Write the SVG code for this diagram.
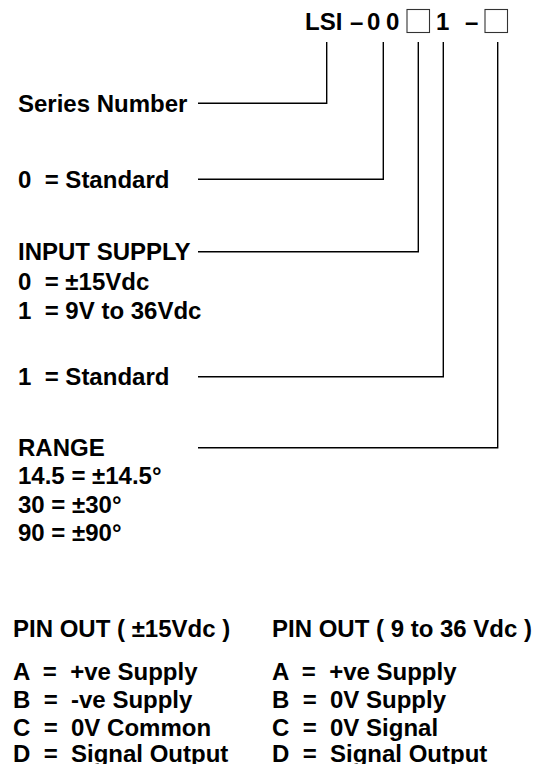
<svg xmlns="http://www.w3.org/2000/svg" width="542" height="764" viewBox="0 0 542 764">
<style>
text{font-family:"Liberation Sans",Arial,sans-serif;font-weight:bold;font-size:24px;fill:#000}
.box{fill:#fff;stroke:#333;stroke-width:1.1}
.conn{fill:none;stroke:#000;stroke-width:1.4}
</style>
<rect width="542" height="764" fill="#fff"/>
<g id="code">
<text x="305" y="30">LSI</text>
<text x="350" y="30">–</text>
<text x="367" y="30">0</text>
<text x="386" y="30">0</text>
<rect class="box" x="407" y="9.5" width="22.5" height="23"/>
<text x="436" y="30">1</text>
<text x="465" y="30">–</text>
<rect class="box" x="485" y="9.5" width="22.5" height="23"/>
</g>
<g id="series"><text x="18" y="111.5">Series Number</text></g>
<g id="standard0"><text x="18" y="187.5" xml:space="preserve">0  = Standard</text></g>
<g id="input-supply">
<text x="18" y="260">INPUT SUPPLY</text>
<text x="18" y="289.5" xml:space="preserve">0  = ±15Vdc</text>
<text x="18" y="319" xml:space="preserve">1  = 9V to 36Vdc</text>
</g>
<g id="standard1"><text x="18" y="385" xml:space="preserve">1  = Standard</text></g>
<g id="range">
<text x="18" y="456">RANGE</text>
<text x="18" y="484">14.5 = ±14.5°</text>
<text x="18" y="512.5">30 = ±30°</text>
<text x="18" y="541">90 = ±90°</text>
</g>
<g id="pinout-15">
<text x="13" y="637">PIN OUT ( ±15Vdc )</text>
<text x="13" y="679.5" xml:space="preserve">A  =  +ve Supply</text>
<text x="13" y="707.5" xml:space="preserve">B  =  -ve Supply</text>
<text x="13" y="735.5" xml:space="preserve">C  =  0V Common</text>
<text x="13" y="762" xml:space="preserve">D  =  Signal Output</text>
</g>
<g id="pinout-9-36">
<text x="272" y="637">PIN OUT ( 9 to 36 Vdc )</text>
<text x="272" y="679.5" xml:space="preserve">A  =  +ve Supply</text>
<text x="272" y="707.5" xml:space="preserve">B  =  0V Supply</text>
<text x="272" y="735.5" xml:space="preserve">C  =  0V Signal</text>
<text x="272" y="762" xml:space="preserve">D  =  Signal Output</text>
</g>
<g id="connectors">
<polyline class="conn" points="198,103.3 326.7,103.3 326.7,42"/>
<polyline class="conn" points="198,179.3 383.3,179.3 383.3,42"/>
<polyline class="conn" points="198,251.7 418.3,251.7 418.3,42"/>
<polyline class="conn" points="198,376.7 443.3,376.7 443.3,42"/>
<polyline class="conn" points="198,447.7 497.7,447.7 497.7,42"/>
</g>
</svg>
